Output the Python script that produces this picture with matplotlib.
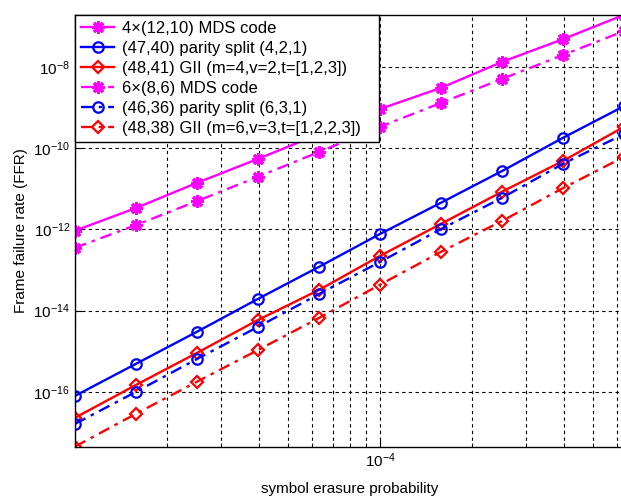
import numpy as np
import matplotlib
matplotlib.use('Agg')
import matplotlib.pyplot as plt
from matplotlib.ticker import LogLocator, NullLocator, NullFormatter, FixedFormatter

plt.rcParams['font.family'] = ['Liberation Sans', 'DejaVu Sans']
plt.rcParams['mathtext.fontset'] = 'custom'
plt.rcParams['mathtext.rm'] = 'Liberation Sans'
plt.rcParams['mathtext.it'] = 'Liberation Sans:italic'
plt.rcParams['mathtext.bf'] = 'Liberation Sans:bold'

# symbol erasure probability (log10 spaced points)
p = [1.0e-5, 1.585e-5, 2.512e-5, 3.981e-5, 6.310e-5,
     1.0e-4, 1.585e-4, 2.512e-4, 3.981e-4, 6.310e-4]

# log10 of frame failure rate
mds_4x12_10 = [-12.03, -11.47, -10.85, -10.26, -9.65, -9.03, -8.51, -7.87, -7.31, -6.71]
ps_47_40 = [-16.10, -15.31, -14.52, -13.71, -12.92, -12.11, -11.34, -10.56, -9.74, -8.96]
gii_48_41 = [-16.64, -15.83, -15.04, -14.23, -13.49, -12.65, -11.86, -11.07, -10.31, -9.47]
mds_6x8_6 = [-12.45, -11.89, -11.30, -10.70, -10.09, -9.47, -8.88, -8.29, -7.70, -7.11]
ps_46_36 = [-16.79, -16.00, -15.19, -14.40, -13.59, -12.80, -11.99, -11.22, -10.38, -9.65]
gii_48_38 = [-17.35, -16.54, -15.75, -14.97, -14.18, -13.36, -12.55, -11.79, -10.98, -10.21]

labels = ['4\u00d7(12,10) MDS code',
          '(47,40) parity split (4,2,1)',
          '(48,41) GII (m=4,v=2,t=[1,2,3])',
          '6\u00d7(8,6) MDS code',
          '(46,36) parity split (6,3,1)',
          '(48,38) GII (m=6,v=3,t=[1,2,2,3])']

W, H = 621, 496
fig = plt.figure(figsize=(W / 100, H / 100), dpi=100)
left, right, top, bottom = 75, 625, 15, 447
ax = fig.add_axes([left / W, 1 - bottom / H, (right - left) / W, (bottom - top) / H])

star = (8, 2, 0)
series = [
    (mds_4x12_10, '-', 'magenta', star),
    (ps_47_40, '-', 'blue', 'o'),
    (gii_48_41, '-', 'red', 'D'),
    (mds_6x8_6, '-.', 'magenta', star),
    (ps_46_36, '-.', 'blue', 'o'),
    (gii_48_38, '-.', 'red', 'D'),
]
sizes = {'o': 7.5, 'D': 6.5}
for (vals, ls, col, mk), lab in zip(series, labels):
    ax.plot(p, 10.0 ** np.array(vals), linestyle=ls, color=col, marker=mk,
            markersize=sizes.get(mk, 9), markerfacecolor='none',
            markeredgewidth=1.6 if mk != star else 2.2, linewidth=1.7, label=lab,
            dashes=(5, 2.5, 1.5, 2.5) if ls == '-.' else (None, None))

ax.set_xscale('log')
ax.set_yscale('log')
ax.set_xlim(1e-5, 10 ** (-5 + (right - left) / 305))
ax.set_ylim(10 ** -17.36, 10 ** (-16 + (392 - top) / 40.6))

ax.set_xticks([1e-5, 1e-4])
ax.xaxis.set_major_formatter(FixedFormatter(['', r'$10^{-4}$']))
ax.xaxis.set_minor_locator(LogLocator(base=10, subs=np.arange(2, 10), numticks=20))
ax.xaxis.set_minor_formatter(NullFormatter())
ax.set_yticks([1e-16, 1e-14, 1e-12, 1e-10, 1e-8])
ax.yaxis.set_minor_locator(NullLocator())

ax.grid(True, which='major', axis='both', color='black', linestyle=(0, (3, 3)), linewidth=0.8)
ax.grid(True, which='minor', axis='x', color='black', linestyle=(0, (3, 3)), linewidth=0.8)
ax.tick_params(which='both', direction='in', labelsize=11)
ax.tick_params(which='minor', length=3)
ax.tick_params(which='major', length=5)
for s in ax.spines.values():
    s.set_linewidth(1.0)

ax.set_xlabel('symbol erasure probability', fontsize=11, labelpad=8)
ax.set_ylabel('Frame failure rate (FFR)', fontsize=11)

leg_w = (379 - left) / (right - left)
leg = ax.legend(loc='upper left', bbox_to_anchor=(0, 0, leg_w, 1), mode='expand',
                borderaxespad=0, fontsize=12, fancybox=False,
                edgecolor='black', framealpha=1, handlelength=2.0, labelspacing=0.3,
                borderpad=0.35, handletextpad=0.5)
leg.get_frame().set_linewidth(1.0)

fig.savefig('out.png', dpi=100)
